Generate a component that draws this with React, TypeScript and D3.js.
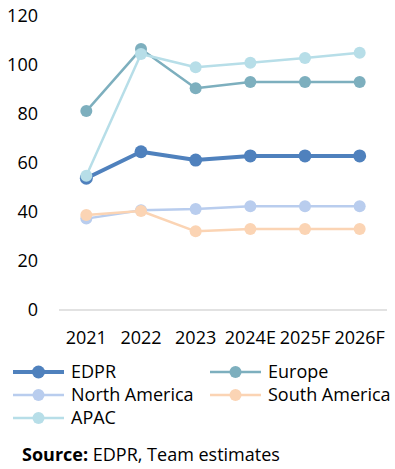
import React from "react";
import * as d3 from "d3";

const categories = ["2021", "2022", "2023", "2024E", "2025F", "2026F"];
const seriesNames = ["EDPR", "Europe", "North America", "South America", "APAC"];
const edpr = [53.8, 64.6, 61.2, 62.9, 62.9, 62.9];
const europe = [81.2, 106.5, 90.5, 93.1, 93.1, 93.1];
const northAmerica = [37.3, 40.7, 41.2, 42.3, 42.3, 42.3];
const southAmerica = [38.8, 40.4, 32.1, 33.1, 33.1, 33.1];
const apac = [54.8, 104.5, 99.1, 100.9, 102.9, 105.0];
const yTicks = [0, 20, 40, 60, 80, 100, 120];
const sourceLabel = "Source:";
const sourceText = " EDPR, Team estimates";

const colors = ["#4F81BD", "#7DAFBE", "#B9CDEE", "#FBD4B4", "#B7DEE8"];
const widths = [4, 2.5, 2.5, 2.5, 2.5];
const radii = [6.5, 6, 6, 6, 6];

export default function App() {
  const W = 395, H = 469;
  const font = "'Open Sans', sans-serif";
  const x = d3.scaleBand<string>().domain(categories).range([59, 387]);
  const y = d3.scaleLinear().domain([0, 120]).range([310, 16]);
  const data = [edpr, europe, northAmerica, southAmerica, apac];
  const line = d3
    .line<number>()
    .x((_, i) => (x(categories[i]) as number) + x.bandwidth() / 2)
    .y((d) => y(d));

  const legendPos = [
    { x: 13, y: 372 },
    { x: 210, y: 372 },
    { x: 13, y: 395 },
    { x: 210, y: 395 },
    { x: 13, y: 418 },
  ];

  return (
    <svg
      width={W}
      height={H}
      style={{ position: "absolute", left: 0, top: 0, background: "#fff" }}
      fontFamily={font}
    >
      {yTicks.map((t) => (
        <text key={t} x={38} y={y(t)} dy="0.35em" textAnchor="end" fontSize={18} fill="#000">
          {t}
        </text>
      ))}
      <line x1={59} x2={387} y1={y(0)} y2={y(0)} stroke="#D9D9D9" strokeWidth={1.5} />
      {categories.map((c) => (
        <text
          key={c}
          x={(x(c) as number) + x.bandwidth() / 2}
          y={338}
          dy="0.35em"
          textAnchor="middle"
          fontSize={18}
          fill="#000"
        >
          {c}
        </text>
      ))}
      {data.map((s, si) => (
        <g key={seriesNames[si]}>
          <path d={line(s) as string} fill="none" stroke={colors[si]} strokeWidth={widths[si]} strokeLinejoin="round" />
          {s.map((v, i) => (
            <circle
              key={i}
              cx={(x(categories[i]) as number) + x.bandwidth() / 2}
              cy={y(v)}
              r={radii[si]}
              fill={colors[si]}
            />
          ))}
        </g>
      ))}
      {seriesNames.map((n, si) => (
        <g key={n} transform={`translate(${legendPos[si].x},${legendPos[si].y})`}>
          <line x1={0} x2={51} y1={0} y2={0} stroke={colors[si]} strokeWidth={widths[si]} />
          <circle cx={25.5} cy={0} r={radii[si]} fill={colors[si]} />
          <text x={58} y={0} dy="0.35em" fontSize={18} fill="#000">
            {n}
          </text>
        </g>
      ))}
      <text x={22} y={455} dy="0.35em" fontSize={18} fill="#000">
        <tspan fontWeight="bold">{sourceLabel}</tspan>
        <tspan>{sourceText}</tspan>
      </text>
    </svg>
  );
}
